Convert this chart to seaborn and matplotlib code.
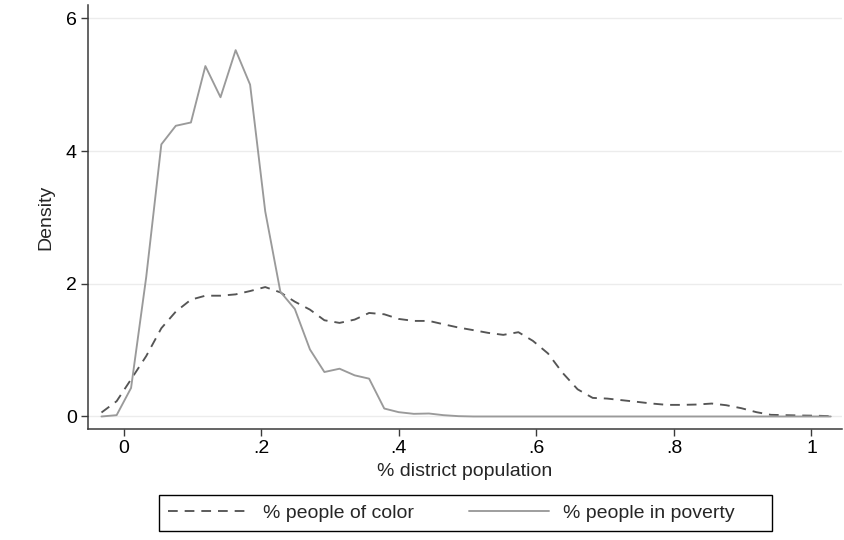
import matplotlib
matplotlib.use("Agg")
import matplotlib.pyplot as plt
from matplotlib.patches import Rectangle
import seaborn as sns
import pandas as pd

# evaluation grid (density estimation points)
x_grid = [-0.032, -0.010, 0.011, 0.033, 0.055, 0.076, 0.098, 0.119, 0.141, 0.163,
          0.184, 0.206, 0.228, 0.249, 0.271, 0.292, 0.314, 0.336, 0.357, 0.379,
          0.400, 0.422, 0.444, 0.465, 0.487, 0.509, 0.530, 0.552, 0.574, 0.595,
          0.617, 0.638, 0.660, 0.682, 0.703, 0.725, 0.747, 0.768, 0.790, 0.811,
          0.833, 0.855, 0.876, 0.898, 0.920, 0.941, 0.963, 0.984, 1.006, 1.028]

dens_color = [0.06, 0.23, 0.56, 0.91, 1.33, 1.58, 1.76, 1.82, 1.82, 1.84,
              1.89, 1.95, 1.87, 1.73, 1.61, 1.45, 1.41, 1.46, 1.56, 1.54,
              1.47, 1.44, 1.44, 1.39, 1.34, 1.30, 1.26, 1.23, 1.27, 1.14,
              0.95, 0.66, 0.41, 0.28, 0.27, 0.245, 0.22, 0.195, 0.175, 0.175,
              0.18, 0.195, 0.17, 0.125, 0.065, 0.025, 0.02, 0.015, 0.012, 0.005]

dens_poverty = [0.00, 0.02, 0.43, 2.10, 4.10, 4.38, 4.43, 5.28, 4.81, 5.52,
                5.00, 3.09, 1.88, 1.62, 1.01, 0.67, 0.72, 0.62, 0.57, 0.12,
                0.065, 0.04, 0.045, 0.02, 0.005, 0.0, 0.0, 0.0, 0.0, 0.0,
                0.0, 0.0, 0.0, 0.0, 0.0, 0.0, 0.0, 0.0, 0.0, 0.0,
                0.0, 0.0, 0.0, 0.0, 0.0, 0.0, 0.0, 0.0, 0.0, 0.0]

series_labels = ["% people of color", "% people in poverty"]
x_ticks = [0, 0.2, 0.4, 0.6, 0.8, 1.0]
x_tick_labels = ["0", ".2", ".4", ".6", ".8", "1"]
y_ticks = [0, 2, 4, 6]
y_tick_labels = ["0", "2", "4", "6"]

sns.set_style("white")
plt.rcParams["font.family"] = ["Liberation Sans", "DejaVu Sans"]
plt.rcParams["lines.scale_dashes"] = False

W, H = 845, 540
fig = plt.figure(figsize=(W / 100, H / 100), dpi=100)
ax = fig.add_axes([88 / W, 1 - 429.3 / H, (841.7 - 88) / W, (429.3 - 5) / H])

df = pd.DataFrame({
    "x": x_grid * 2,
    "density": dens_color + dens_poverty,
    "series": [series_labels[0]] * len(x_grid) + [series_labels[1]] * len(x_grid),
})

sns.lineplot(data=df, x="x", y="density", hue="series", style="series",
             palette={series_labels[0]: "#555555", series_labels[1]: "#9a9a9a"},
             dashes={series_labels[0]: (7, 5), series_labels[1]: ""},
             linewidth=1.35, ax=ax, legend=False, sort=False)

ax.set_xlim(-0.0516, 1.0439)
ax.set_ylim(-0.193, 6.2)
ax.set_xticks(x_ticks)
ax.set_xticklabels(x_tick_labels)
ax.set_yticks(y_ticks)
ax.set_yticklabels(y_tick_labels)

for y in y_ticks:
    ax.axhline(y, color="#ececec", lw=1.0, zorder=0)

for s in ["top", "right"]:
    ax.spines[s].set_visible(False)
for s in ["left", "bottom"]:
    ax.spines[s].set_color("#3a3a3a")
    ax.spines[s].set_linewidth(1.1)

ax.tick_params(axis="both", direction="out", length=5, width=1.0, color="#3a3a3a",
               labelsize=14, pad=3, labelcolor="black", bottom=True, left=True)

ax.set_xlabel("% district population", fontsize=14, labelpad=4)
ax.set_ylabel("Density", fontsize=14, labelpad=8)

handles = [
    plt.Line2D([], [], color="#555555", lw=1.35, dashes=(7, 5)),
    plt.Line2D([], [], color="#9a9a9a", lw=1.35),
]
leg = fig.legend(handles, series_labels, loc="center left", ncol=2,
                 bbox_to_anchor=(168.3 / W, 1 - 513 / H), fontsize=14,
                 frameon=False, handlelength=4.12, handletextpad=0.74,
                 columnspacing=2.83, borderpad=0, borderaxespad=0)

fig.patches.append(Rectangle((159.3 / W, 1 - 530.7 / H), (771.7 - 159.3) / W,
                             (530.7 - 494.7) / H, transform=fig.transFigure,
                             fill=False, edgecolor="black", linewidth=1.0))

fig.savefig("out.png", dpi=100)
